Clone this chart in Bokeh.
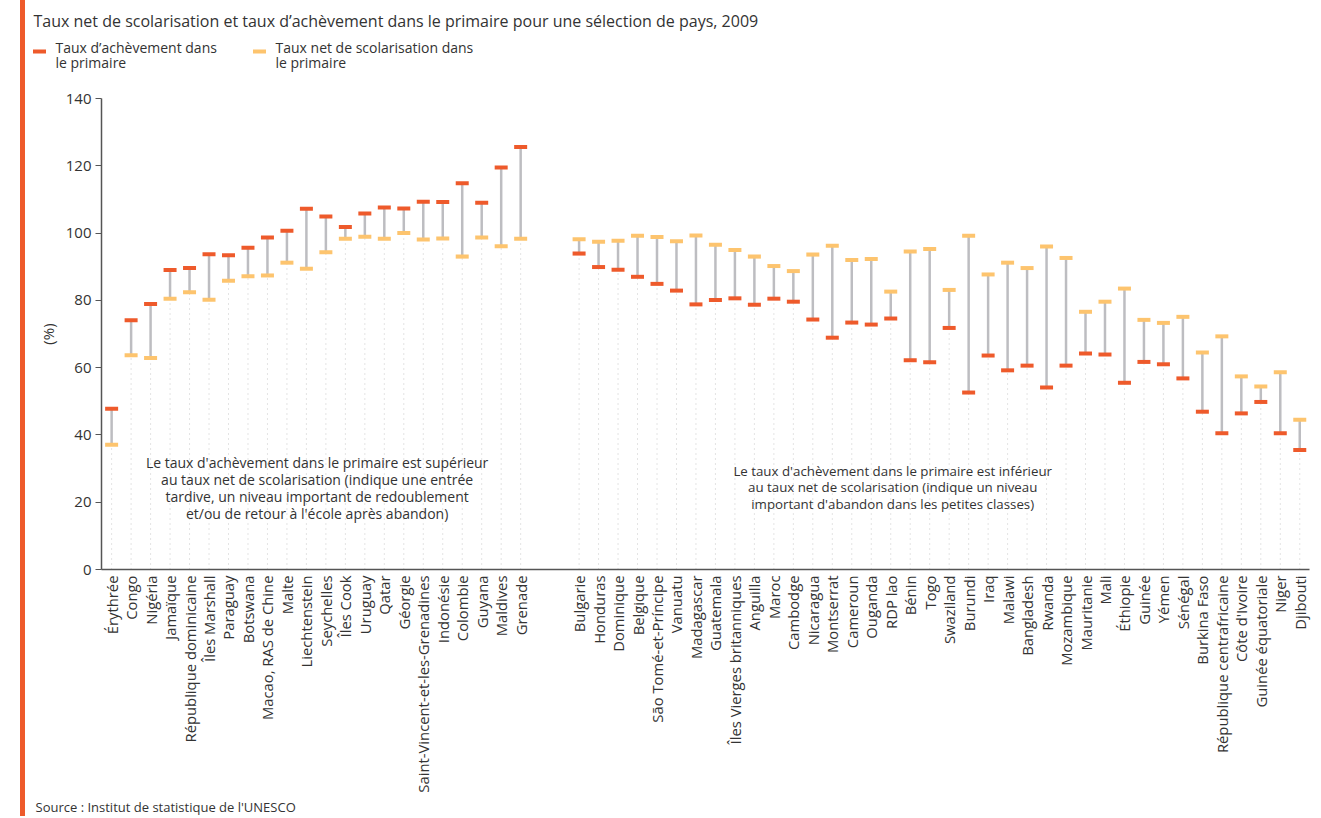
import math
from bokeh.plotting import figure
from bokeh.models import Range1d, FixedTicker, Label, Title, ColumnDataSource, Div
from bokeh.layouts import row, column
from bokeh.core.properties import value
from bokeh.embed import file_html
from bokeh.resources import INLINE

# ---------------- data ----------------
countries_left = ["Érythrée", "Congo", "Nigéria", "Jamaïque", "République dominicaine",
                  "Îles Marshall", "Paraguay", "Botswana", "Macao, RAS de Chine", "Malte",
                  "Liechtenstein", "Seychelles", "Îles Cook", "Uruguay", "Qatar", "Géorgie",
                  "Saint-Vincent-et-les-Grenadines", "Indonésie", "Colombie", "Guyana",
                  "Maldives", "Grenade"]
completion_left = [47.8, 74.1, 78.9, 89.0, 89.6, 93.7, 93.4, 95.6, 98.7, 100.7,
                   107.2, 104.9, 101.8, 105.8, 107.6, 107.3, 109.3, 109.2, 114.8, 109.0,
                   119.5, 125.6]
enrolment_left = [37.1, 63.7, 62.9, 80.5, 82.4, 80.2, 85.8, 87.2, 87.4, 91.2,
                  89.4, 94.3, 98.3, 98.9, 98.3, 100.0, 98.1, 98.4, 93.0, 98.7,
                  96.1, 98.3]

countries_right = ["Bulgarie", "Honduras", "Dominique", "Belgique", "São Tomé-et-Príncipe",
                   "Vanuatu", "Madagascar", "Guatemala", "Îles Vierges britanniques",
                   "Anguilla", "Maroc", "Cambodge", "Nicaragua", "Montserrat", "Cameroun",
                   "Ouganda", "RDP lao", "Bénin", "Togo", "Swaziland", "Burundi", "Iraq",
                   "Malawi", "Bangladesh", "Rwanda", "Mozambique", "Mauritanie", "Mali",
                   "Éthiopie", "Guinée", "Yémen", "Sénégal", "Burkina Faso",
                   "République centrafricaine", "Côte d'Ivoire", "Guinée équatoriale",
                   "Niger", "Djibouti"]
completion_right = [93.9, 89.9, 89.1, 87.0, 84.9, 82.9, 78.8, 80.1, 80.6, 78.7,
                    80.5, 79.6, 74.3, 68.9, 73.4, 72.8, 74.6, 62.2, 61.6, 71.8,
                    52.6, 63.6, 59.2, 60.6, 54.1, 60.6, 64.2, 63.9, 55.5, 61.7,
                    61.0, 56.8, 46.9, 40.5, 46.4, 49.8, 40.5, 35.5]
enrolment_right = [98.2, 97.4, 97.7, 99.2, 98.8, 97.6, 99.3, 96.5, 95.0, 93.0,
                   90.2, 88.7, 93.6, 96.2, 92.0, 92.3, 82.6, 94.5, 95.3, 83.1,
                   99.2, 87.7, 91.2, 89.6, 96.0, 92.6, 76.6, 79.6, 83.5, 74.2,
                   73.3, 75.1, 64.5, 69.3, 57.4, 54.4, 58.6, 44.5]

y_ticks = [0, 20, 40, 60, 80, 100, 120, 140]
GAP = 2  # empty slots between the two groups

title_text = "Taux net de scolarisation et taux d’achèvement dans le primaire pour une sélection de pays, 2009"
legend_labels = ["Taux d’achèvement dans\nle primaire", "Taux net de scolarisation dans\nle primaire"]
note_left = ("Le taux d'achèvement dans le primaire est supérieur\nau taux net de scolarisation (indique une entrée\n"
             "tardive, un niveau important de redoublement\net/ou de retour à l'école après abandon)")
note_right = ("Le taux d'achèvement dans le primaire est inférieur\nau taux net de scolarisation (indique un niveau\n"
              "important d'abandon dans les petites classes)")
source_text = "Source : Institut de statistique de l'UNESCO"

# ---------------- styles ----------------
RED = "#EE5A2B"
YELLOW = "#FDC46E"
GREY = "#BDBDC1"
TXT = "#333333"
FONT = "Open Sans"

TOTAL_H = 816
HEAD_H = 84
FIG_W = 1290
LEFT_W = 25

countries = countries_left + countries_right
completion = completion_left + completion_right
enrolment = enrolment_left + enrolment_right
xs = list(range(len(countries_left))) + [len(countries_left) + GAP + i for i in range(len(countries_right))]
lo = [min(a, b) for a, b in zip(completion, enrolment)]
hi = [max(a, b) for a, b in zip(completion, enrolment)]
zeros = [0] * len(xs)

src = ColumnDataSource(dict(x=xs, comp=completion, enr=enrolment, lo=lo, hi=hi, zero=zeros))

# ---------------- header (title + legend) ----------------
head = figure(width=FIG_W, height=HEAD_H, output_backend="svg", toolbar_location=None,
              x_range=Range1d(LEFT_W, LEFT_W + FIG_W), y_range=Range1d(HEAD_H, 0),
              x_axis_type=None, y_axis_type=None, min_border=0)
head.frame_align = False
head.outline_line_color = None
head.grid.visible = False
head.text(x=[33], y=[9], text=[title_text], text_baseline="top", text_font=value(FONT),
          text_font_size="16px", text_color=TXT)
head.rect(x=[39, 259], y=[51, 51], width=13, height=4, fill_color=[RED, YELLOW], line_color=None)
head.text(x=[55, 275], y=[37, 37], text=legend_labels, text_baseline="top",
          text_font=value(FONT), text_font_size="14px", text_color=TXT, text_line_height=0.84)

# ---------------- main chart ----------------
H_MAIN = TOTAL_H - HEAD_H
TOP_B = 98 - HEAD_H
p = figure(width=FIG_W, height=H_MAIN, output_backend="svg", toolbar_location=None,
           x_range=Range1d(-0.52, xs[-1] + 0.5), y_range=Range1d(0, 140),
           min_border_left=101 - LEFT_W, min_border_top=TOP_B,
           min_border_bottom=H_MAIN - TOP_B - 471, min_border_right=6)
p.frame_align = False
p.outline_line_color = None
p.grid.visible = False

p.segment(x0="x", y0="zero", x1="x", y1="lo", source=src, line_color="#C8C8C8",
          line_width=1, line_dash="1 4")
p.segment(x0="x", y0="lo", x1="x", y1="hi", source=src, line_color=GREY, line_width=2.5)
p.rect(x="x", y="enr", width=13, height=4, width_units="screen", height_units="screen",
       source=src, fill_color=YELLOW, line_color=None)
p.rect(x="x", y="comp", width=13, height=4, width_units="screen", height_units="screen",
       source=src, fill_color=RED, line_color=None)

xa = p.xaxis[0]
xa.ticker = FixedTicker(ticks=xs)
xa.major_label_overrides = {x: c for x, c in zip(xs, countries)}
xa.major_label_orientation = math.pi / 2
xa.major_tick_out = 0
xa.major_tick_in = 0
xa.minor_tick_line_color = None
xa.axis_line_color = "#555555"
xa.axis_line_width = 1.5
xa.major_label_text_font = FONT
xa.major_label_text_font_size = "14.8px"
xa.major_label_text_color = TXT
xa.major_label_standoff = 6

ya = p.yaxis[0]
ya.ticker = FixedTicker(ticks=y_ticks)
ya.minor_tick_line_color = None
ya.major_tick_out = 6
ya.major_tick_in = 0
ya.major_tick_line_color = "#555555"
ya.axis_line_color = "#555555"
ya.axis_line_width = 1.5
ya.major_label_text_font = FONT
ya.major_label_text_font_size = "15px"
ya.major_label_text_color = TXT
ya.major_label_standoff = 4
ya.axis_label = "(%)"
ya.axis_label_text_font = FONT
ya.axis_label_text_font_size = "15px"
ya.axis_label_text_font_style = "normal"
ya.axis_label_text_color = TXT
ya.axis_label_standoff = 5

p.add_layout(Label(x=10.55, y=34.5, text=note_left, text_align="center", text_baseline="top",
                   text_font=FONT, text_font_size="14px", text_color=TXT, text_line_height=0.89))
p.add_layout(Label(x=40.1, y=32.1, text=note_right, text_align="center", text_baseline="top",
                   text_font=FONT, text_font_size="13.3px", text_color=TXT, text_line_height=0.93))

p.add_layout(Title(text=source_text, align="left", offset=-66, standoff=0,
                   text_font=FONT, text_font_size="13px", text_font_style="normal",
                   text_color=TXT), "below")

stripe = Div(width=LEFT_W, height=TOTAL_H, margin=0,
             styles={"background": "linear-gradient(to right, #ffffff 0px, #ffffff 20px, %s 20px, %s 25px)" % (RED, RED)})

layout = row(stripe, column(head, p))
open("out.html", "w").write(file_html(layout, INLINE))
